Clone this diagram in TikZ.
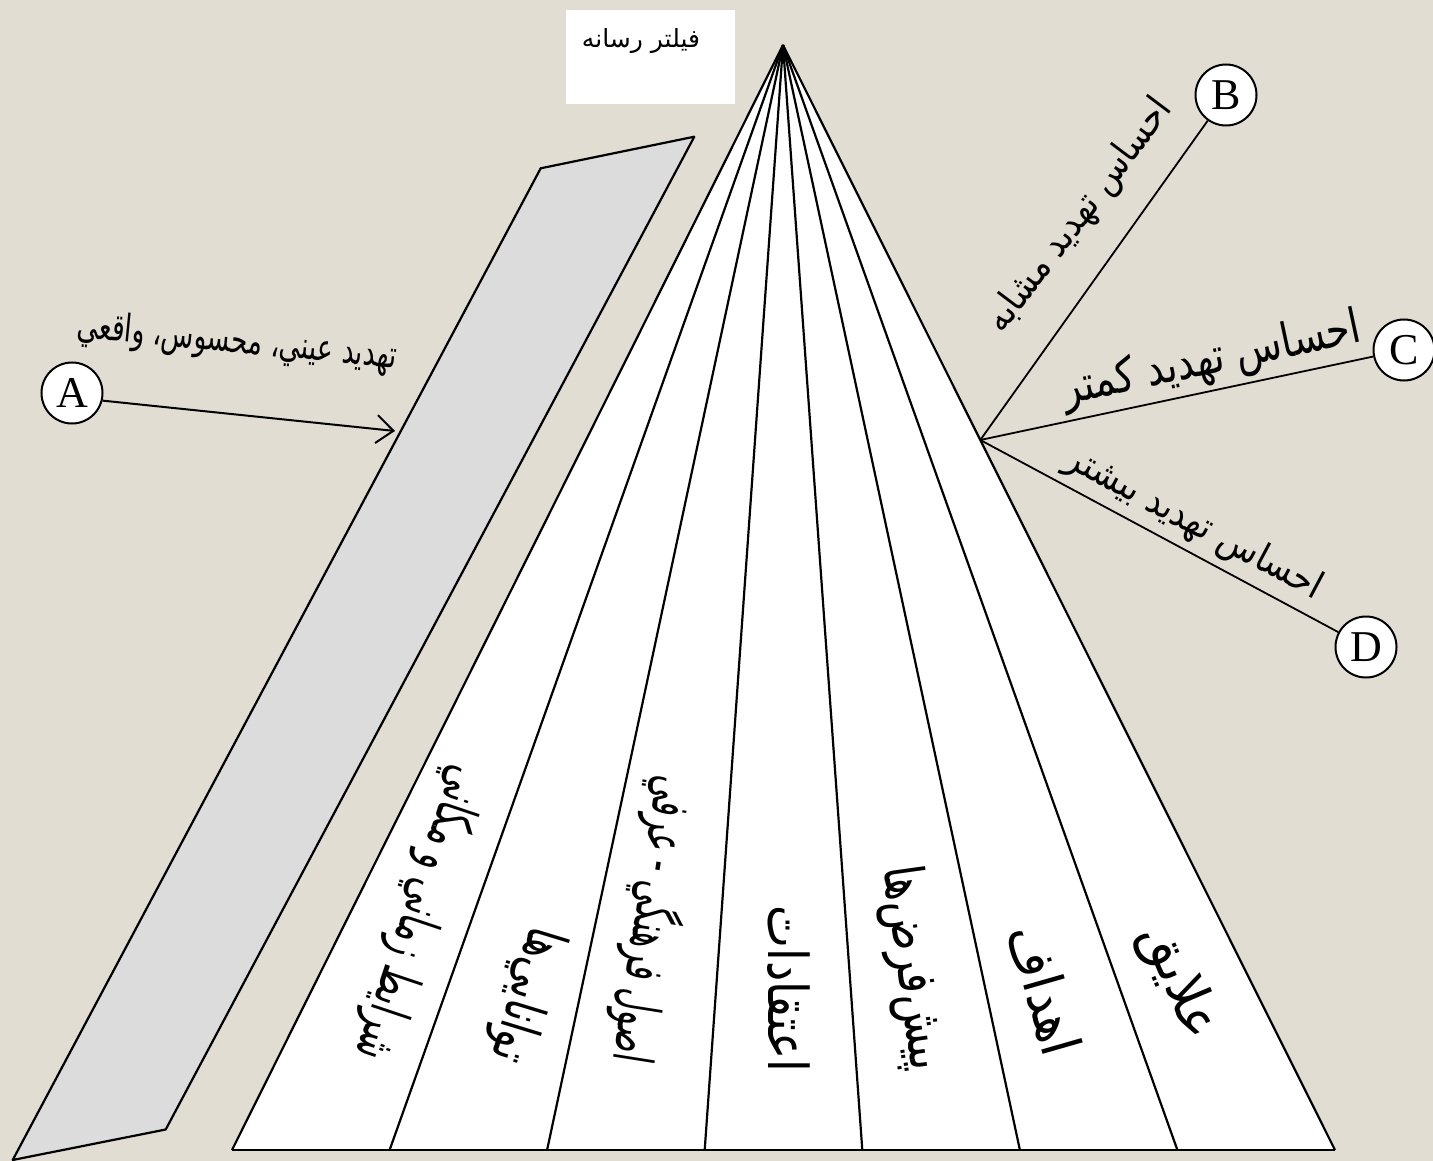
\documentclass[tikz,border=0pt]{standalone}
\usepackage{fontspec}
\usepackage{graphicx}
\usetikzlibrary{arrows.meta}
\TeXXeTstate=1
\setmainfont{Liberation Serif}
\newfontfamily\arabicfont[Script=Arabic]{DejaVu Sans}
\definecolor{bg}{RGB}{226,221,210}
\definecolor{slab}{RGB}{220,220,220}
\tikzset{
  pyr/.style={line width=2.2pt, line join=round},
  conn/.style={line width=1.8pt},
  arr/.style={line width=2pt, -{Straight Barb[length=17pt,width=28pt,line width=2pt]}},
  letter/.style={circle, draw, line width=2pt, fill=white, minimum size=61pt, inner sep=0pt, font=\fontsize{44}{44}\selectfont},
  seglabel/.style={inner sep=0pt, font=\fontsize{55}{55}\selectfont\arabicfont},
  threat/.style={inner sep=0pt, font=\fontsize{38}{38}\selectfont\arabicfont}
}
\begin{document}
\begin{tikzpicture}[x=1pt,y=-1pt]
\useasboundingbox[fill=bg] (0,0) rectangle (1433,1161);

% media filter box
\fill[white] (566,10) rectangle (735,104);
\node[inner sep=0pt, font=\fontsize{25}{25}\selectfont\arabicfont] (filt) at (641,41) {\beginR فيلتر رسانه\endR};

% grey slab
\draw[pyr, fill=slab] (540.7,168.3) -- (694.3,136.7) -- (165.7,1129.5) -- (12.7,1160) -- cycle;

% pyramid
\coordinate (apex) at (783,45);
\fill[white] (apex) -- (1335,1150) -- (232,1150) -- cycle;
\foreach \x in {232,389.6,547.1,704.7,862.3,1019.9,1177.4,1335}
  \draw[pyr] (apex) -- (\x,1150);
\draw[pyr] (232,1150) -- (1335,1150);

% segment labels
\node[seglabel, rotate=-108.5] (l1) at (418,913) {\scalebox{0.60}[1]{\beginR شرايط زماني و مكاني\endR}};
\node[seglabel, rotate=-107] (l2) at (525,995) {\scalebox{0.70}[1]{\beginR توانايي‌ها\endR}};
\node[seglabel, rotate=-99] (l3) at (653,920) {\scalebox{0.56}[1]{\beginR اصول فرهنگي - عرفي\endR}};
\node[seglabel, rotate=-90] (l4) at (789,989) {\scalebox{0.83}[1]{\beginR اعتقادات\endR}};
\node[seglabel, rotate=-82] (l5) at (912,968) {\scalebox{0.76}[1]{\beginR پيش‌فرض‌ها\endR}};
\node[seglabel, rotate=-74] (l6) at (1045,990) {\scalebox{0.91}[1]{\beginR اهداف\endR}};
\node[seglabel, rotate=-67] (l7) at (1178,982) {\scalebox{0.95}[1]{\beginR علايق\endR}};

% A
\node[letter] (A) at (72,393) {A};
\coordinate (aT) at (395,431);
\draw[arr] (A.-14) -- (aT);
\node[threat, rotate=-5.5] (ta) at (237,343) {\scalebox{0.70}[1]{\beginR تهديد عيني، محسوس، واقعي\endR}};

% B, C, D
\coordinate (hub) at (980.3,440);
\node[letter] (B) at (1226,95) {B};
\node[letter] (C) at (1404,350) {C};
\node[letter] (D) at (1366,647) {D};
\draw[conn] (hub) -- (B);
\draw[conn] (hub) -- (C);
\draw[conn] (hub) -- (D);
\node[threat, rotate=53] (tb) at (1080,216) {\scalebox{0.87}[1]{\beginR احساس تهديد مشابه\endR}};
\node[threat, rotate=12, font=\fontsize{48}{48}\selectfont\arabicfont] (tc) at (1212,361) {\scalebox{0.80}[1]{\beginR احساس تهديد كمتر\endR}};
\node[threat, rotate=-28] (td) at (1194,524) {\scalebox{0.90}[1]{\beginR احساس تهديد بيشتر\endR}};
\end{tikzpicture}
\end{document}
